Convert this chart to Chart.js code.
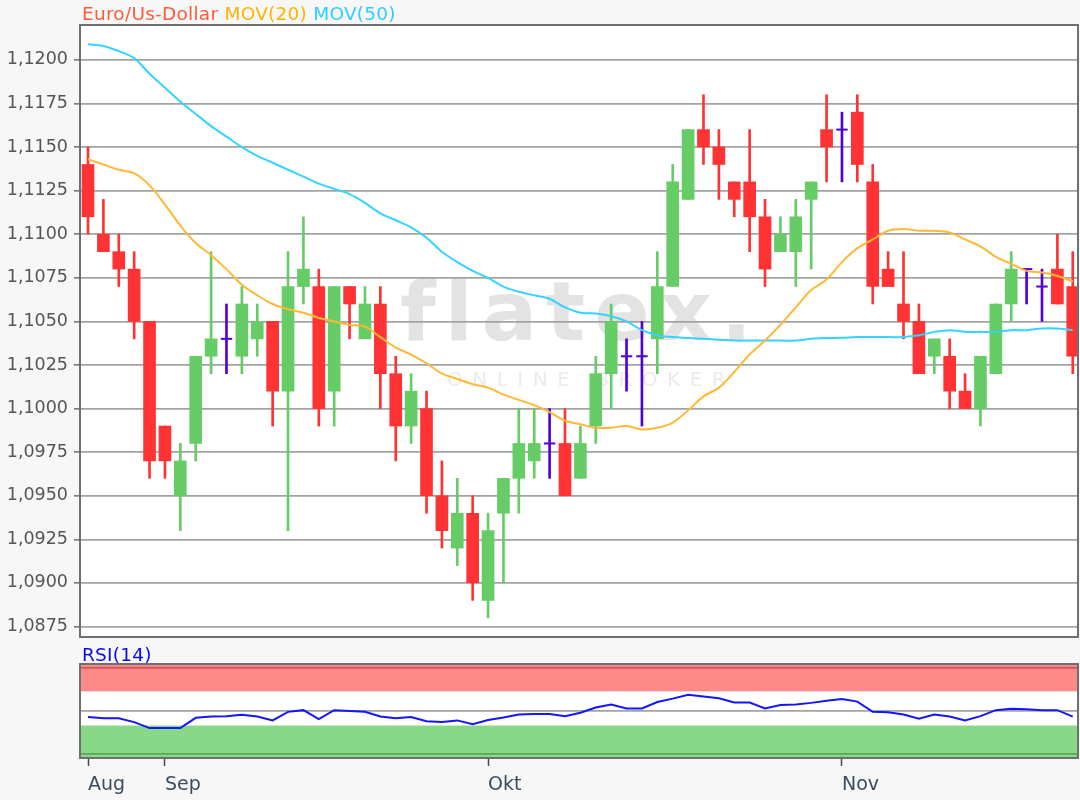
<!DOCTYPE html>
<html>
<head>
<meta charset="utf-8">
<script src="https://cdn.jsdelivr.net/npm/chart.js@4.4.1/dist/chart.umd.min.js"></script>
<style>
  html, body { margin: 0; padding: 0; width: 1080px; height: 800px; overflow: hidden; background: #f7f7f7; font-family: "DejaVu Sans", sans-serif; }
  #legend { position: absolute; left: 82px; top: 5px; font-size: 18.5px; line-height: 18.5px; letter-spacing: 0.25px; white-space: nowrap; }
  #rsiLabel { position: absolute; left: 82px; top: 646px; font-size: 18.5px; line-height: 18.5px; letter-spacing: 0.25px; color: #0a0aee; white-space: nowrap; }
  canvas { position: absolute; left: 0; }
  #main { top: 0; }
  #rsi { top: 640px; }
</style>
</head>
<body>
<canvas id="main" width="1080" height="645"></canvas>
<canvas id="rsi" width="1080" height="160"></canvas>
<div id="legend"><span style="color:#ff5b3a">Euro/Us-Dollar</span> <span style="color:#ffb300">MOV(20)</span> <span style="color:#2ccfff">MOV(50)</span></div>
<div id="rsiLabel">RSI(14)</div>
<script>
// ---------- data ----------
const dates = [
  '2019-08-26','2019-08-27','2019-08-28','2019-08-29','2019-08-30',
  '2019-09-02','2019-09-03','2019-09-04','2019-09-05','2019-09-06',
  '2019-09-09','2019-09-10','2019-09-11','2019-09-12','2019-09-13',
  '2019-09-16','2019-09-17','2019-09-18','2019-09-19','2019-09-20',
  '2019-09-23','2019-09-24','2019-09-25','2019-09-26','2019-09-27',
  '2019-09-30',
  '2019-10-01','2019-10-02','2019-10-03','2019-10-04',
  '2019-10-07','2019-10-08','2019-10-09','2019-10-10','2019-10-11',
  '2019-10-14','2019-10-15','2019-10-16','2019-10-17','2019-10-18',
  '2019-10-21','2019-10-22','2019-10-23','2019-10-24','2019-10-25',
  '2019-10-28','2019-10-29','2019-10-30','2019-10-31',
  '2019-11-01',
  '2019-11-04','2019-11-05','2019-11-06','2019-11-07','2019-11-08',
  '2019-11-11','2019-11-12','2019-11-13','2019-11-14','2019-11-15',
  '2019-11-18','2019-11-19','2019-11-20','2019-11-21','2019-11-22'
];
const open  = [1.1140,1.1100,1.1090,1.1080,1.1050, 1.0990,1.0950,1.0980,1.1030,1.1040, 1.1030,1.1040,1.1050,1.1010,1.1070, 1.1070,1.1010,1.1070,1.1040,1.1060, 1.1020,1.0990,1.1000,1.0950,1.0920, 1.0940,
               1.0890,1.0940,1.0960,1.0970, 1.0980,1.0980,1.0960,1.0990,1.1020, 1.1030,1.1030,1.1040,1.1070,1.1120, 1.1160,1.1150,1.1130,1.1130,1.1110, 1.1090,1.1090,1.1120,1.1160,
               1.1160, 1.1170,1.1130,1.1080,1.1060,1.1050, 1.1030,1.1030,1.1010,1.1000,1.1020, 1.1060,1.1080,1.1070,1.1080,1.1070];
const high  = [1.1150,1.1120,1.1100,1.1090,1.1050, 1.0990,1.0980,1.1030,1.1090,1.1060, 1.1070,1.1060,1.1050,1.1090,1.1110, 1.1080,1.1070,1.1070,1.1070,1.1070, 1.1030,1.1020,1.1010,1.0970,1.0960, 1.0950,
               1.0940,1.0960,1.1000,1.1000, 1.1000,1.1000,1.0990,1.1030,1.1060, 1.1040,1.1050,1.1090,1.1140,1.1160, 1.1180,1.1160,1.1130,1.1160,1.1120, 1.1110,1.1120,1.1130,1.1180,
               1.1170, 1.1180,1.1140,1.1090,1.1090,1.1060, 1.1040,1.1040,1.1020,1.1030,1.1060, 1.1090,1.1080,1.1080,1.1100,1.1090];
const low   = [1.1100,1.1090,1.1070,1.1040,1.0960, 1.0960,1.0930,1.0970,1.1020,1.1020, 1.1020,1.1030,1.0990,1.0930,1.1060, 1.0990,1.0990,1.1040,1.1040,1.1000, 1.0970,1.0980,1.0940,1.0920,1.0910, 1.0890,
               1.0880,1.0900,1.0940,1.0960, 1.0960,1.0950,1.0960,1.0980,1.1000, 1.1010,1.0990,1.1020,1.1070,1.1120, 1.1140,1.1120,1.1110,1.1090,1.1070, 1.1090,1.1070,1.1080,1.1130,
               1.1130, 1.1130,1.1060,1.1070,1.1040,1.1020, 1.1020,1.1000,1.1000,1.0990,1.1020, 1.1050,1.1060,1.1050,1.1060,1.1020];
const close = [1.1110,1.1090,1.1080,1.1050,1.0970, 1.0970,1.0970,1.1030,1.1040,1.1040, 1.1060,1.1050,1.1010,1.1070,1.1080, 1.1000,1.1070,1.1060,1.1060,1.1020, 1.0990,1.1010,1.0950,1.0930,1.0940, 1.0900,
               1.0930,1.0960,1.0980,1.0980, 1.0980,1.0950,1.0980,1.1020,1.1050, 1.1030,1.1030,1.1070,1.1130,1.1160, 1.1150,1.1140,1.1120,1.1110,1.1080, 1.1100,1.1110,1.1130,1.1150,
               1.1160, 1.1140,1.1070,1.1070,1.1050,1.1020, 1.1040,1.1010,1.1000,1.1030,1.1060, 1.1080,1.1080,1.1070,1.1060,1.1030];
const ma20  = [1.1143,1.1140,1.1137,1.1135,1.1128, 1.1117,1.1105,1.1095,1.1088,1.1080, 1.1071,1.1065,1.1060,1.1057,1.1055, 1.1052,1.1050,1.1048,1.1047,1.1041, 1.1035,1.1031,1.1026,1.1020,1.1017, 1.1014,
               1.1012,1.1008,1.1005,1.1002, 1.0998,1.0993,1.0991,1.0989,1.0989, 1.0990,1.0988,1.0989,1.0992,1.0999, 1.1007,1.1012,1.1021,1.1031,1.1039, 1.1048,1.1058,1.1068,1.1074,
               1.1084, 1.1092,1.1097,1.1102,1.1103,1.1102, 1.1102,1.1101,1.1097,1.1093,1.1087, 1.1083,1.1079,1.1078,1.1076,1.1073];
const ma50  = [1.1209,1.1208,1.1205,1.1201,1.1192, 1.1184,1.1176,1.1169,1.1162,1.1156, 1.1150,1.1145,1.1141,1.1137,1.1133, 1.1129,1.1126,1.1123,1.1118,1.1112, 1.1108,1.1104,1.1098,1.1090,1.1084, 1.1079,
               1.1075,1.1070,1.1067,1.1065, 1.1063,1.1058,1.1055,1.10545,1.1053, 1.1050,1.1045,1.1042,1.1041,1.10405, 1.1040,1.10395,1.1039,1.1039,1.1039, 1.1039,1.1039,1.1040,1.10405,
               1.10406, 1.1041,1.1041,1.1041,1.1041,1.1042, 1.1044,1.1045,1.1044,1.1044,1.1044, 1.1045,1.1045,1.1046,1.1046,1.1045];
const rsi14 = [43,41.5,41.5,37,30, 30,30,42,43.5,44, 45.5,43.5,39,49,51, 40.5,51,50,49,43.5, 41.5,43,38,37,39, 34.5,
               39.5,42.5,46,46.5, 46.5,44,48,54,57.5, 53,53,60.5,64.5,69, 67,65,60,60,53, 57,57.5,59.5,62,
               64, 61,49,48.5,46,41, 46,43.5,39,44,51, 52.5,52,51,51,43.5];
const priceTicks = [1.0875,1.0900,1.0925,1.0950,1.0975,1.1000,1.1025,1.1050,1.1075,1.1100,1.1125,1.1150,1.1175,1.1200];
const rsiTicks = [0,25,50,75,100];
const rsiTickLabels = [25,75];
const rsiUpper = 73, rsiLower = 33;
const monthNames = {'08':'Aug','09':'Sep','10':'Okt','11':'Nov'};

// ---------- styling ----------
const RED = '#ff3333', GREEN = '#66cc66', DOJI = '#5200d6';
const GRID = '#a3a3a3', FRAME = '#6f6f6f';
Chart.defaults.font.family = "'DejaVu Sans', sans-serif";
Chart.defaults.animation = false;

const idx = dates.map((d, i) => i);
const candleColor = i => close[i] > open[i] ? GREEN : (close[i] < open[i] ? RED : DOJI);
const isDoji = i => close[i] === open[i];
const monthStarts = idx.filter(i => i === 0 || dates[i].slice(5, 7) !== dates[i - 1].slice(5, 7));

const X_MIN = -0.52, X_MAX = 64.34;

const framePlugin = {
  id: 'frame',
  beforeDraw(chart) {
    const {ctx, chartArea: a} = chart;
    ctx.save();
    ctx.fillStyle = '#ffffff';
    ctx.fillRect(a.left, a.top, a.right - a.left, a.bottom - a.top);
    if (chart.options.plugins.watermark) {
      ctx.fillStyle = '#e3e3e3';
      ctx.font = "bold 82px 'DejaVu Sans'";
      ctx.textBaseline = 'alphabetic';
      ctx.letterSpacing = '9px';
      ctx.fillText('flatex.', 400, 340);
      ctx.fillStyle = '#ebebeb';
      ctx.font = "20px 'DejaVu Sans'";
      ctx.letterSpacing = '9.5px';
      ctx.fillText('ONLINE BROKER', 447, 386);
    }
    ctx.restore();
  },
  afterDraw(chart) {
    const {ctx, chartArea: a} = chart;
    ctx.save();
    ctx.strokeStyle = FRAME;
    ctx.lineWidth = 2;
    ctx.strokeRect(a.left, a.top, a.right - a.left, a.bottom - a.top);
    ctx.restore();
  }
};

const bandPlugin = {
  id: 'bands',
  beforeDatasetsDraw(chart) {
    const {ctx, chartArea: a, scales: {y}} = chart;
    ctx.save();
    ctx.fillStyle = 'rgba(255,0,0,0.467)';
    const yu = y.getPixelForValue(rsiUpper);
    ctx.fillRect(a.left, a.top, a.right - a.left, yu - a.top);
    ctx.fillStyle = 'rgba(0,172,0,0.467)';
    const yl = y.getPixelForValue(rsiLower);
    ctx.fillRect(a.left, yl, a.right - a.left, a.bottom - yl);
    ctx.restore();
  }
};

function fixY(scale) { scale.width = 80; scale.paddingTop = 0; scale.paddingBottom = 0; }

// ---------- main price chart ----------
new Chart(document.getElementById('main'), {
  type: 'bar',
  data: {
    datasets: [
      { type: 'line', label: 'MOV(20)', data: idx.map(i => ({x: i, y: ma20[i]})), borderColor: '#ffb833', borderWidth: 2, pointRadius: 0, tension: 0.35, order: 0 },
      { type: 'line', label: 'MOV(50)', data: idx.map(i => ({x: i, y: ma50[i]})), borderColor: '#33d4ff', borderWidth: 2, pointRadius: 0, tension: 0.35, order: 1 },
      { type: 'line', label: 'doji', data: idx.filter(isDoji).map(i => ({x: i, y: open[i]})), showLine: false,
        pointStyle: 'line', pointRadius: 5.7, pointHoverRadius: 5.7, borderColor: DOJI, pointBorderColor: DOJI, pointBorderWidth: 2, order: 2 },
      { type: 'bar', label: 'body', data: idx.filter(i => !isDoji(i)).map(i => ({x: i, y: [Math.min(open[i], close[i]), Math.max(open[i], close[i])]})),
        backgroundColor: c => candleColor(c.raw.x), barThickness: 12, grouped: false, borderWidth: 0, order: 3 },
      { type: 'bar', label: 'wick', data: idx.map(i => ({x: i, y: [low[i], high[i]]})),
        backgroundColor: c => candleColor(c.raw.x), barThickness: 2, grouped: false, borderWidth: 0, order: 4 }
    ]
  },
  options: {
    responsive: false,
    layout: { autoPadding: false, padding: { left: 0, right: 2, top: 25, bottom: 8 } },
    plugins: { legend: { display: false }, tooltip: { enabled: false }, watermark: true },
    scales: {
      x: { type: 'linear', min: X_MIN, max: X_MAX, offset: false, display: false },
      y: {
        type: 'linear', min: 1.0869, max: 1.1220, beginAtZero: false,
        afterBuildTicks: s => { s.ticks = priceTicks.map(v => ({value: v})); },
        afterFit: fixY,
        ticks: { callback: v => v.toFixed(4).replace('.', ','), color: '#555555', font: { size: 17.5 }, padding: 6 },
        grid: { color: GRID, lineWidth: 1.7, tickLength: 6, tickColor: FRAME, tickWidth: 1.5 },
        border: { display: true, color: FRAME, width: 2 }
      }
    }
  },
  plugins: [framePlugin]
});

// ---------- RSI chart ----------
new Chart(document.getElementById('rsi'), {
  type: 'line',
  data: {
    datasets: [
      { label: 'RSI(14)', data: idx.map(i => ({x: i, y: rsi14[i]})), borderColor: '#1414ff', borderWidth: 2, pointRadius: 0, tension: 0 }
    ]
  },
  options: {
    responsive: false,
    layout: { autoPadding: false, padding: { left: 0, right: 2, top: 24, bottom: 0 } },
    plugins: { legend: { display: false }, tooltip: { enabled: false } },
    scales: {
      x: {
        type: 'linear', min: X_MIN, max: X_MAX, offset: false,
        afterBuildTicks: s => { s.ticks = monthStarts.map(v => ({value: v})); },
        afterFit: s => { s.height = 42; s.paddingLeft = 0; s.paddingRight = 0; },
        ticks: { callback: v => monthNames[dates[v].slice(5, 7)], align: 'start', color: '#3a4c5e', font: { size: 19 }, padding: 8, maxRotation: 0, autoSkip: false },
        grid: { drawOnChartArea: false, drawTicks: true, tickLength: 8, tickColor: '#3a4c5e', tickWidth: 1.5 },
        border: { display: false }
      },
      y: {
        type: 'linear', min: -5, max: 105,
        afterBuildTicks: s => { s.ticks = rsiTicks.map(v => ({value: v})); },
        afterFit: fixY,
        ticks: { callback: v => rsiTickLabels.includes(v) ? String(v) : '', color: '#555555', font: { size: 18 }, padding: 10 },
        grid: { color: GRID, lineWidth: 1.7, tickLength: 6, tickColor: c => rsiTickLabels.includes(c.tick.value) ? FRAME : 'rgba(0,0,0,0)', tickWidth: 1.5 },
        border: { display: true, color: FRAME, width: 2 }
      }
    }
  },
  plugins: [framePlugin, bandPlugin]
});
</script>
</body>
</html>
